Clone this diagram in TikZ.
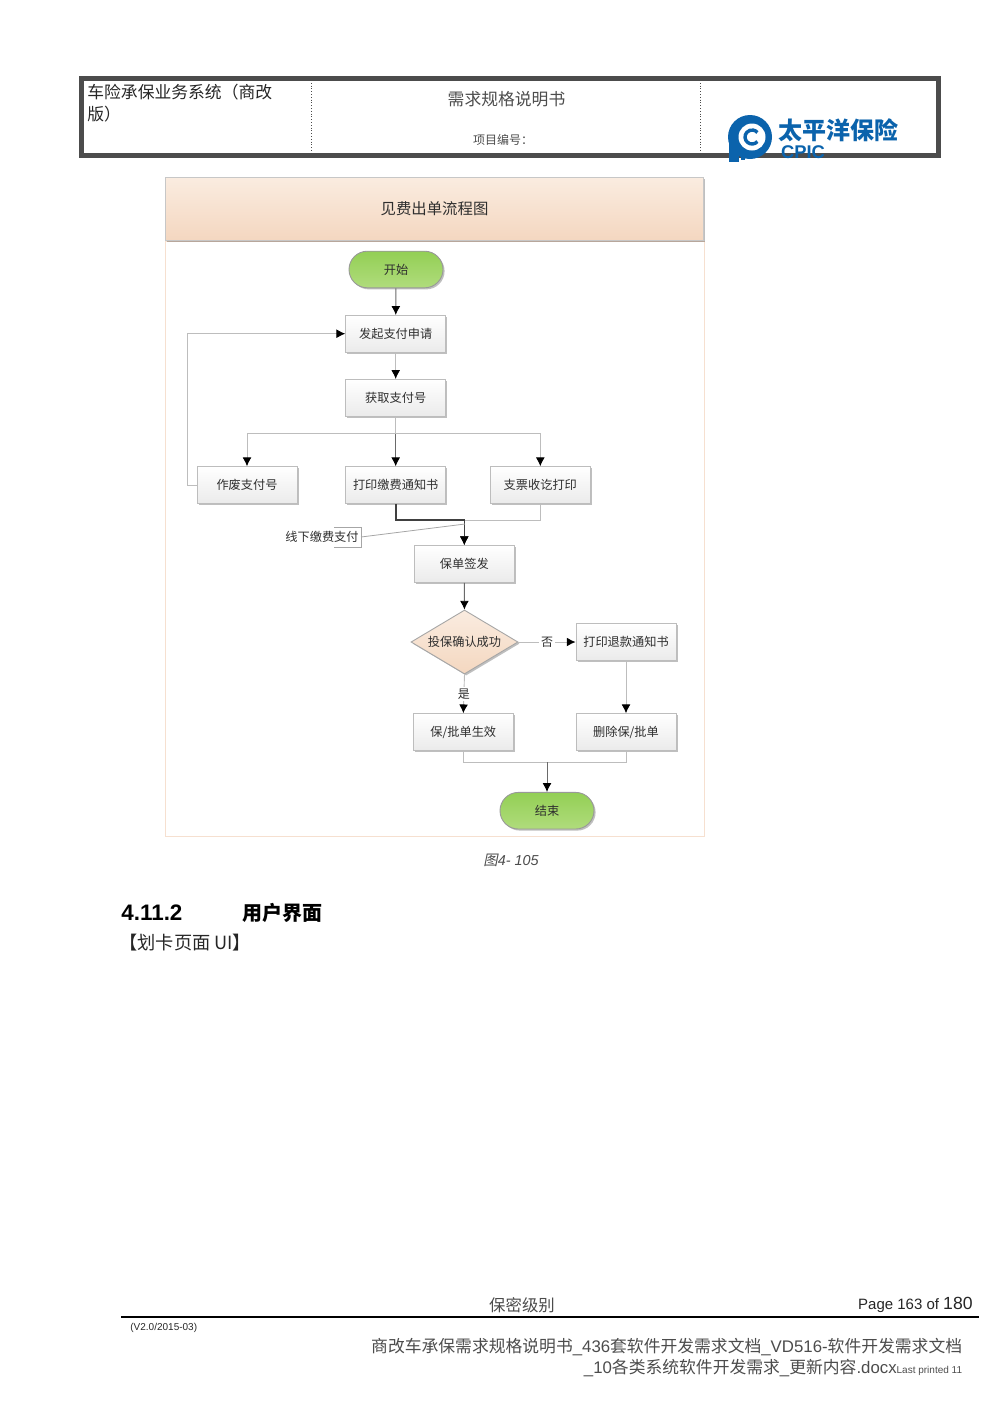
\documentclass[tikz,border=0pt]{standalone}
\usepackage{fontspec}
\setmainfont{Liberation Sans}
\newfontfamily\cjk{Noto Sans CJK SC}
\newfontfamily\cjkslant[FakeSlant=.2]{Noto Sans CJK SC}
\usetikzlibrary{arrows.meta,shapes.geometric,shapes.misc,shadows}
\definecolor{cpicblue}{HTML}{0B63AC}
\definecolor{linegray}{HTML}{BDBDBD}
\definecolor{linedark}{HTML}{6A6A6A}
\definecolor{txtgray}{HTML}{2E2E2E}
\definecolor{bandtop}{HTML}{FAECE0}
\definecolor{bandbot}{HTML}{F4D7C0}
\definecolor{termtop}{HTML}{93CF55}
\definecolor{termbot}{HTML}{B0DC7C}
\definecolor{frameline}{HTML}{F6E0D0}
\tikzset{
  boxshadow/.style={drop shadow={shadow xshift=.8pt,shadow yshift=-.8pt,opacity=.25,fill=black}},
  procbox/.style={draw=linegray,line width=.45pt,top color=white,bottom color=black!8,minimum width=50pt,minimum height=18.3pt,inner sep=0pt,font=\cjk\fontsize{6.1}{7}\selectfont,text=txtgray,boxshadow},
  termbox/.style={draw=black!40,line width=.45pt,rounded rectangle,top color=termtop,bottom color=termbot,minimum width=47pt,minimum height=18.3pt,inner sep=0pt,font=\cjk\fontsize{6.1}{7}\selectfont,text=txtgray,boxshadow},
  flow/.style={draw=linegray,line width=.45pt,-{Latex[black,length=4.4pt,width=4.4pt]}},
  flowdark/.style={flow,draw=linedark},
  plain/.style={inner sep=0pt,text=txtgray}
}
\begin{document}
\begin{tikzpicture}[x=.5pt,y=-.5pt]
\useasboundingbox (0,0) rectangle (1000,1415);
% page header
\draw[line width=1.1pt,black!70] (80.5,77.5) rectangle (939.5,156.5);
\draw[line width=1.1pt,black!70] (83,80) rectangle (937,154);
\draw[densely dotted,line width=.4pt,black!70] (311,80)--(311,154);
\draw[densely dotted,line width=.4pt,black!70] (700,80)--(700,154);
\node[plain,anchor=west,black!85] (sysname) at (87,92) {\cjk\fontsize{8.4}{10}\selectfont 车险承保业务系统（商改};
\node[plain,anchor=west,black!85] (sysname2) at (87,114) {\cjk\fontsize{8.4}{10}\selectfont 版）};
\node[plain,black!70] (doctitle) at (506.5,99) {\cjk\fontsize{8.4}{10}\selectfont 需求规格说明书};
\node[plain,black!70] (docno) at (503,140) {\cjk\fontsize{6}{8}\selectfont 项目编号：};
% logo
\fill[cpicblue] (750,137) circle (22);
\fill[cpicblue] (729,137) rectangle (739,162);
\fill[white] (752,137) circle (13.5);
\draw[cpicblue,line width=1.7pt] (757.4,141.5) arc (40:320:7);
\fill[cpicblue] (741,155) rectangle (745,160);
\node[plain,cpicblue] (logocn) at (838.5,130) {\cjk\bfseries\fontsize{12}{14}\selectfont 太平洋保险};
\node[plain,cpicblue] (logoen) at (803,152) {\fontsize{9.2}{11}\selectfont\bfseries CPIC};
% flow chart frame
\draw[line width=.45pt,frameline] (165,241) rectangle (704,836);
\node[draw=black!22,line width=.4pt,top color=bandtop,bottom color=bandbot,minimum width=269.3pt,minimum height=31.7pt,inner sep=0pt,text=txtgray,font=\cjk\fontsize{7.7}{9}\selectfont,boxshadow] (title) at (434.5,208.8) {见费出单流程图};
% nodes
\node[termbox] (start) at (396,269.5) {开始};
\node[procbox] (apply) at (395.7,333.7) {发起支付申请};
\node[procbox] (getno) at (395.7,397.7) {获取支付号};
\node[procbox] (cancel) at (247,485) {作废支付号};
\node[procbox] (notice) at (395.7,485) {打印缴费通知书};
\node[procbox] (receipt) at (540.3,485) {支票收讫打印};
\node[procbox] (issue) at (464.3,564) {保单签发};
\node[diamond,draw=black!35,line width=.45pt,top color=bandtop,bottom color=bandbot,minimum width=53.5pt,minimum height=32pt,aspect=1.67,inner sep=0pt,font=\cjk\fontsize{6.1}{7}\selectfont,text=txtgray,boxshadow] (confirm) at (464.5,642) {\raisebox{.3pt}{投保确认成功}};
\node[procbox] (refund) at (626,642) {打印退款通知书};
\node[procbox] (valid) at (463.3,732) {保/批单生效};
\node[procbox] (remove) at (626,732) {删除保/批单};
\node[termbox] (finish) at (547,810.7) {结束};
\coordinate (merge) at (464.3,520);
\coordinate (joinend) at (547,762);
% connectors
\draw[flowdark] (start)--(apply);
\draw[flow] (apply)--(getno);
\draw[flowdark] (getno)--(notice);
\draw[flow] (getno.south)--++(0,17)-|(cancel.north);
\draw[flow] (getno.south)--++(0,17)-|(receipt.north);
\draw[flow] (cancel.west)--++(-9,0)|-(apply.west);
\draw[flow] (receipt.south)|-(merge)--(issue.north);
\draw[flowdark,line width=.8pt,draw=black!75] (notice.south)|-(merge)--(issue.north);
\draw[flowdark] (issue)--(confirm);
\draw[flow] (confirm)--(refund) node[pos=.5,fill=white,inner sep=1pt,text=txtgray,font=\cjk\fontsize{6}{7}\selectfont] (nolabel) {否};
\draw[flow] (confirm.south)--(valid.north) node[pos=.5,fill=white,inner sep=1pt,text=txtgray,font=\cjk\fontsize{6}{7}\selectfont] (yeslabel) {是};
\draw[flow] (refund)--(remove);
\draw[linegray,line width=.45pt] (valid.south)|-(joinend)-|(remove.south);
\draw[flowdark] (joinend)--(finish.north);
% callout
\node[plain,font=\cjk\fontsize{6.1}{7}\selectfont] (offline) at (322,537) {线下缴费支付};
\draw[black!35,line width=.4pt] (334,527)-|(361,547)--(334,547);
\draw[black!35,line width=.4pt] (361,537)--(465,524);
% caption and heading
\node[plain,black!70,font=\itshape\fontsize{7.2}{8}\selectfont] (caption) at (511,860.5) {{\cjkslant 图}4-\ 105};
\node[plain,anchor=west,black,font=\bfseries\fontsize{11.2}{13}\selectfont] (secno) at (121,912.5) {4.11.2};
\node[plain,anchor=west,black,font=\cjk\bfseries\fontsize{10}{12}\selectfont] (sectitle) at (242,912.5) {用户界面};
\node[plain,anchor=west,black!85,font=\cjk\fontsize{9.1}{11}\selectfont] (cardui) at (119,942.5) {【划卡页面 UI】};
% footer
\draw[black,line width=1.25pt] (121,1317)--(979,1317);
\node[plain,black!70,font=\cjk\fontsize{8.2}{10}\selectfont] (secret) at (522,1305) {保密级别};
\node[plain,anchor=east,black!85,font=\fontsize{7.5}{9}\selectfont] (pageno) at (973,1305) {Page 163 of {\fontsize{8.8}{9}\selectfont 180}};
\node[plain,anchor=west,black!85,font=\fontsize{5}{6}\selectfont] (version) at (130,1328) {(V2.0/2015-03)};
\node[plain,anchor=east,black!70,font=\fontsize{8.4}{10}\selectfont] (fileone) at (962.5,1347.5) {{\cjk 商改车承保需求规格说明书}\_436{\cjk 套软件开发需求文档}\_VD516-{\cjk 软件开发需求文档}};
\node[plain,anchor=east,black!70,font=\fontsize{8.4}{10}\selectfont] (filetwo) at (962.5,1368.5) {\_10{\cjk 各类系统软件开发需求}\_{\cjk 更新内容}.docx{\fontsize{5}{6}\selectfont Last printed 11}};
\end{tikzpicture}
\end{document}
